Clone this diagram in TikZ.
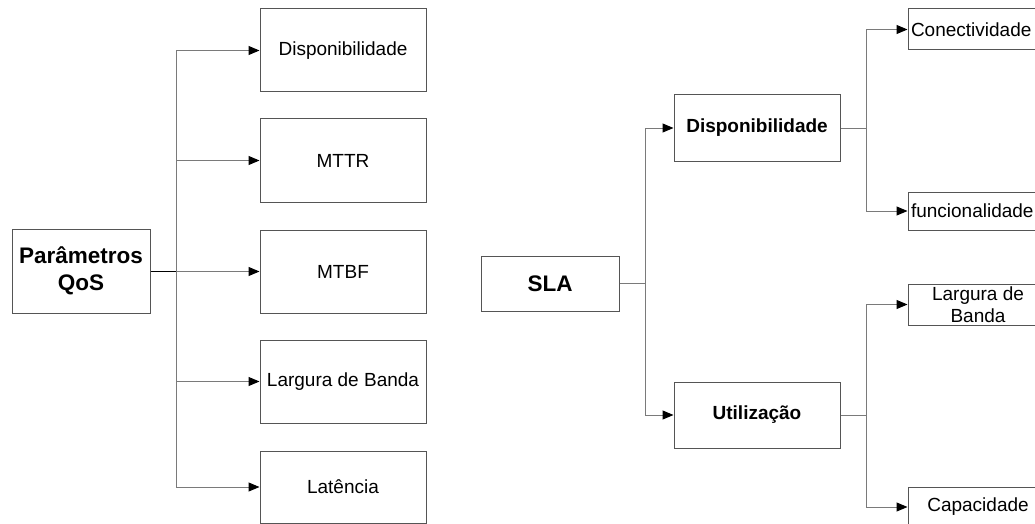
\documentclass[tikz,border=0pt]{standalone}
\usepackage{fontspec}
\setmainfont{Liberation Sans}
\usetikzlibrary{arrows.meta,positioning}
\definecolor{linegray}{HTML}{7A7A7A}
\definecolor{boxgray}{HTML}{555555}
\tikzset{>={Triangle[length=11pt,width=9pt,color=black]}}

\begin{document}
\begin{tikzpicture}[x=1pt,y=-1pt,
    box/.style={draw=boxgray, line width=1pt, rectangle, inner sep=0pt, font=\fontsize{19}{22}\selectfont},
    head/.style={box, font=\bfseries\fontsize{22.5}{27}\selectfont, align=center},
    sub/.style={box, font=\bfseries\fontsize{19}{22}\selectfont, minimum width=166pt, minimum height=66pt},
    leaf/.style={box, minimum width=140pt},
    leafl/.style={leaf, text width=134pt, align=left},
    link/.style={draw=linegray, line width=1pt},
    arr/.style={link, ->}]
  \useasboundingbox (0,0) rectangle (1035,524);
  \clip (0,0) rectangle (1035,524);

  % Parametros QoS
  \node[head, minimum width=138pt, minimum height=84pt] (qos) at (81,271) {Parâmetros\\QoS};
  \foreach \name/\y/\h/\txt in {pd/50.5/83/Disponibilidade, pr/160.5/83/MTTR,
                                pf/271.5/83/MTBF, pb/381.5/83/Largura de Banda,
                                pl/487/72/Latência}
  {
  \node[box, minimum width=166pt, minimum height=\h pt] (\name) at (343,\y) {\txt};
  }
  \coordinate (tq) at (176,271);
  \draw[line width=1pt] (qos) -- (tq);
  \draw[link] (tq |- pd) -- (tq |- pl);
  \foreach \name in {pd,pr,pf,pb,pl}
  \draw[arr] (tq |- \name) -- (\name);

  % SLA
  \node[head, minimum width=138pt, minimum height=55pt] (sla) at (550,283.5) {SLA};
  \node[sub] (disp) at (757,128) {Disponibilidade};
  \node[sub] (util) at (757,415) {Utilização};
  \coordinate (ts) at (645,283.5);
  \draw[link] (sla) -- (ts);
  \draw[link] (ts |- disp) -- (ts |- util);
  \draw[arr] (ts |- disp) -- (disp);
  \draw[arr] (ts |- util) -- (util);

  \node[leafl, minimum height=41pt] (con) at (978,29.5) {Conectividade};
  \node[leafl, minimum height=38pt] (fun) at (978,211) {funcionalidade};
  \node[leaf, minimum height=41pt, text height=35pt, text depth=0pt] (lb) at (978,304.5)
    {\begin{tabular}[b]{@{}c@{}}Largura de\\Banda\end{tabular}};
  \node[leaf, minimum height=40pt] (cap) at (978,507) {Capacidade};

  \coordinate (td) at (866,128);
  \coordinate (tu) at (866,415);
  \draw[link] (disp) -- (td);
  \draw[link] (td |- con) -- (td |- fun);
  \draw[arr] (td |- con) -- (con);
  \draw[arr] (td |- fun) -- (fun);
  \draw[link] (util) -- (tu);
  \draw[link] (tu |- lb) -- (tu |- cap);
  \draw[arr] (tu |- lb) -- (lb);
  \draw[arr] (tu |- cap) -- (cap);
\end{tikzpicture}
\end{document}
